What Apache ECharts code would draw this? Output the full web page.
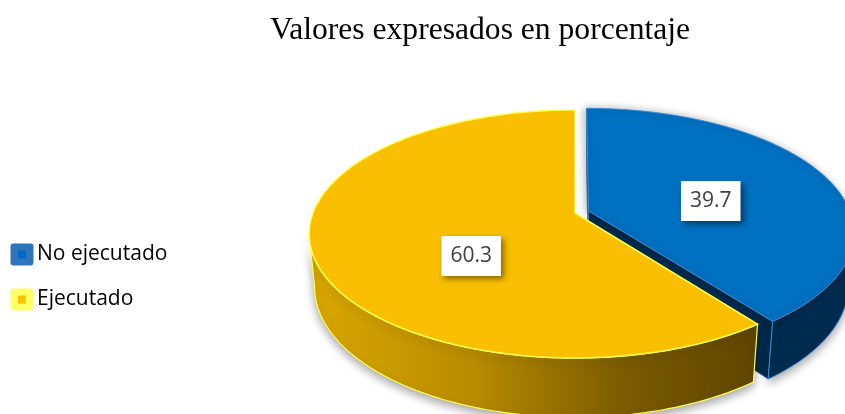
<!DOCTYPE html>
<html>
<head>
<meta charset="utf-8">
<script src="https://cdn.jsdelivr.net/npm/echarts@6/dist/echarts.min.js"></script>
<style>
  html, body { margin: 0; padding: 0; background: #fff; }
  #chart { width: 845px; height: 414px; }
</style>
</head>
<body>
<div id="chart"></div>
<script>
  const categories = ['No ejecutado', 'Ejecutado'];
  const values = [39.7, 60.3];
  const titleText = 'Valores expresados en porcentaje';

  // camera for the tilted 3d pie
  const CX = 575, CY = 213, FOCAL = 1378, DIST = 5.26;
  const SIN_A = 0.46, COS_A = Math.sqrt(1 - SIN_A * SIN_A);
  const THICK = 0.23;
  const SILHOUETTE = Math.acos(-COS_A / DIST);

  function proj (x, y, z) {
    const yc = y * COS_A + z * SIN_A;
    const zc = -y * SIN_A + z * COS_A + DIST;
    return [CX + FOCAL * x / zc, CY - FOCAL * yc / zc];
  }

  function icon (outer, inner) {
    const svg = "<svg xmlns='http://www.w3.org/2000/svg' width='24' height='23'>" +
      "<rect x='0.5' y='0.5' width='23' height='22' rx='3' ry='3' fill='" + outer + "'/>" +
      "<rect x='8' y='7.5' width='8' height='8' fill='" + inner + "'/></svg>";
    return 'image://data:image/svg+xml;charset=utf-8,' + encodeURIComponent(svg);
  }

  function makeRender (cfg) {
    return function (params, api) {
      const total = values.reduce((a, b) => a + b, 0);
      let before = 0;
      for (let i = 0; i < params.seriesIndex; i++) before += values[i];
      const v = api.value(0);
      const a0 = before / total * 2 * Math.PI;
      const a1 = (before + v) / total * 2 * Math.PI;
      const mid = (a0 + a1) / 2;
      const ox = cfg.explode * Math.sin(mid);
      const oz = cfg.explode * Math.cos(mid);
      const rim = (t, y, r) => proj(ox + (r || 1) * Math.sin(t), y, oz + (r || 1) * Math.cos(t));
      const arc = (t0, t1, y) => {
        const pts = [];
        const n = Math.max(2, Math.ceil((t1 - t0) / 0.01));
        for (let i = 0; i <= n; i++) pts.push(rim(t0 + (t1 - t0) * i / n, y));
        return pts;
      };
      const children = [];

      // radial cut faces, only the ones turned to the viewer
      [[a0, -1], [a1, 1]].forEach(function (f) {
        const t = f[0], s = f[1];
        const nx = s * Math.cos(t), nz = -s * Math.sin(t);
        if (nx * (-ox) + nz * (-DIST * COS_A - oz) > 0.05) {
          children.push({
            type: 'polygon',
            shape: { points: [proj(ox, 0, oz), rim(t, 0), rim(t, -THICK), proj(ox, -THICK, oz)] },
            style: cfg.cutStyle
          });
        }
      });

      // outer wall (front part)
      const w0 = Math.max(a0, SILHOUETTE), w1 = Math.min(a1, 2 * Math.PI - SILHOUETTE);
      if (w1 > w0) {
        children.push({
          type: 'polygon',
          shape: { points: arc(w0, w1, 0).concat(arc(w0, w1, -THICK).reverse()) },
          style: cfg.wallStyle
        });
      }

      // top face
      children.push({
        type: 'polygon',
        shape: { points: [proj(ox, 0, oz)].concat(arc(a0, a1, 0)) },
        style: cfg.topStyle
      });

      const lp = rim(mid, cfg.labelY, cfg.labelR);
      children.push({
        type: 'text',
        z2: 10,
        style: {
          x: lp[0], y: lp[1],
          text: v.toFixed(1),
          align: 'center', verticalAlign: 'middle',
          fill: '#404040',
          font: '21px "Open Sans"',
          lineHeight: 22,
          backgroundColor: '#fff',
          padding: [9, 9, 9, 9],
          shadowBlur: 6, shadowColor: 'rgba(0,0,0,0.45)',
          shadowOffsetX: 3, shadowOffsetY: 3
        }
      });
      return { type: 'group', children: children };
    };
  }

  const sliceCfg = [
    {
      explode: 0.055, labelR: 0.51, labelY: -0.04,
      topStyle: { fill: '#0070C0', stroke: '#3A8BD4', lineWidth: 1,
        shadowBlur: 8, shadowColor: 'rgba(0,0,0,0.3)', shadowOffsetX: -2 },
      wallStyle: { fill: '#002C50', stroke: '#3A8BD4', lineWidth: 1,
        shadowBlur: 10, shadowColor: 'rgba(0,0,0,0.35)', shadowOffsetY: 4 },
      cutStyle: { fill: '#002C50', stroke: '#3A8BD4', lineWidth: 1 }
    },
    {
      explode: 0, labelR: 0.413, labelY: -0.115,
      topStyle: { fill: '#FABF00', stroke: '#FFFF4D', lineWidth: 1.5 },
      wallStyle: {
        fill: {
          type: 'linear', x: 313, y: 0, x2: 760, y2: 0, global: true,
          colorStops: [
            { offset: 0, color: '#D9A700' },
            { offset: 0.35, color: '#B98C00' },
            { offset: 0.7, color: '#7A5B00' },
            { offset: 1, color: '#5E4500' }
          ]
        },
        stroke: '#FFFF4D', lineWidth: 1.2,
        shadowBlur: 10, shadowColor: 'rgba(0,0,0,0.35)', shadowOffsetY: 4
      },
      cutStyle: { fill: '#8A6700' }
    }
  ];

  const chart = echarts.init(document.getElementById('chart'));
  chart.setOption({
    animation: false,
    title: {
      text: titleText,
      left: 475, top: 10, textAlign: 'center',
      textStyle: { fontFamily: '"Liberation Serif", serif', fontSize: 31.6, fontWeight: 'normal', color: '#000' }
    },
    legend: {
      orient: 'vertical',
      left: 10, top: 243, padding: 0,
      itemWidth: 24, itemHeight: 23, itemGap: 22,
      textStyle: { fontFamily: '"Open Sans"', fontSize: 21, color: '#000', padding: [0, 0, 0, -2] },
      data: [
        { name: categories[0], icon: icon('#2E75BA', '#0068C8') },
        { name: categories[1], icon: icon('#FFFF66', '#FFC000') }
      ]
    },
    series: categories.map(function (name, i) {
      return {
        name: name,
        type: 'custom',
        coordinateSystem: 'none',
        z: 2 + i,
        itemStyle: { color: i === 0 ? '#0070C0' : '#FABF00' },
        renderItem: makeRender(sliceCfg[i]),
        data: [[values[i]]]
      };
    })
  });
</script>
</body>
</html>
